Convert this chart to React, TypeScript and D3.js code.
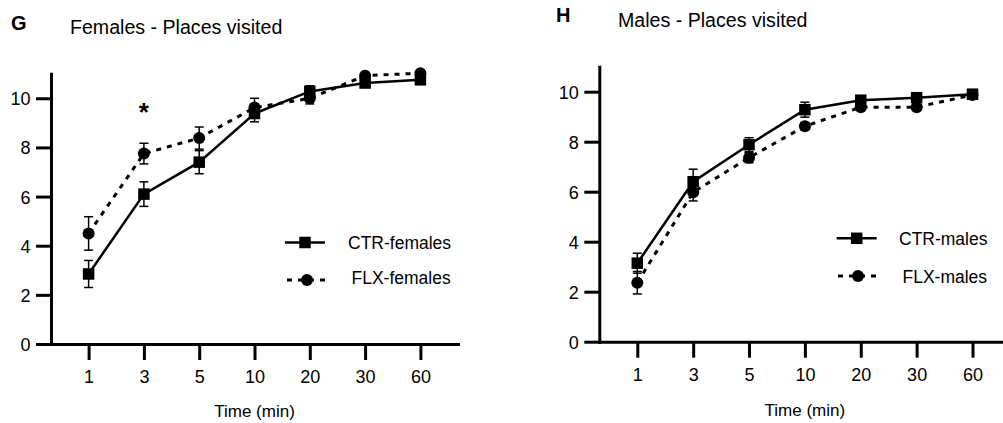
import { useEffect, useRef } from 'react';
import * as d3 from 'd3';

const times = ['1', '3', '5', '10', '20', '30', '60'];
const yTicks = [0, 2, 4, 6, 8, 10];

const ctrFemales = [2.85, 6.1, 7.4, 9.38, 10.28, 10.62, 10.75];
const ctrFemalesSem = [0.55, 0.5, 0.47, 0.34, 0.23, 0.1, 0.08];
const flxFemales = [4.5, 7.75, 8.38, 9.62, 10.0, 10.92, 11.02];
const flxFemalesSem = [0.68, 0.42, 0.45, 0.38, 0.23, 0.08, 0.06];
const sigFemales = ['', '*', '', '', '', '', ''];

const ctrMales = [3.14, 6.4, 7.88, 9.28, 9.66, 9.76, 9.9];
const ctrMalesSem = [0.4, 0.5, 0.28, 0.3, 0.12, 0.12, 0.08];
const flxMales = [2.36, 5.98, 7.36, 8.62, 9.38, 9.38, 9.87];
const flxMalesSem = [0.45, 0.35, 0.2, 0.15, 0.1, 0.1, 0.06];
const sigMales = ['', '', '', '', '', '', ''];

const FONT = '"Liberation Sans", Arial, Helvetica, sans-serif';

interface Series {
  label: string;
  values: number[];
  sem: number[];
  dashed: boolean;
  marker: 'square' | 'circle';
}

interface PanelProps {
  letter: string;
  title: string;
  letterPos: [number, number];
  titlePos: [number, number];
  xRange: [number, number];
  yRange: [number, number];
  xLabelY: number;
  series: Series[];
  sig: string[];
  legend: { lineX: [number, number]; markerX: number; textX: number; lineY: number; textY: number }[];
}

function Panel({ letter, title, letterPos, titlePos, xRange, yRange, xLabelY, series, sig, legend }: PanelProps) {
  const gRef = useRef<SVGGElement>(null);

  useEffect(() => {
    if (!gRef.current) return;
    const g = d3.select(gRef.current);
    g.selectAll('*').remove();

    const x = d3.scalePoint<string>().domain(times).range(xRange).padding(0.68);
    const y = d3.scaleLinear().domain([0, 11]).range(yRange);

    // axes
    const yAxis = g.append('g')
      .attr('transform', `translate(${xRange[0]},0)`)
      .call(d3.axisLeft(y).tickValues(yTicks).tickSize(15).tickSizeOuter(0).tickPadding(5.5));
    const xAxis = g.append('g')
      .attr('transform', `translate(0,${yRange[0]})`)
      .call(d3.axisBottom(x).tickSize(16).tickSizeOuter(0).tickPadding(10.5));

    [yAxis, xAxis].forEach(a => {
      a.select('.domain').attr('stroke', '#000').attr('stroke-width', 3).attr('stroke-linecap', 'square');
      a.selectAll('.tick line').attr('stroke', '#000').attr('stroke-width', 3);
      a.selectAll('.tick text')
        .attr('fill', '#000')
        .attr('font-size', 18)
        .attr('font-family', FONT);
    });
    yAxis.selectAll('.tick text').attr('dy', '0.36em');

    const line = d3.line<number>()
      .x((_, i) => x(times[i])!)
      .y(d => y(d));

    series.forEach(s => {
      g.append('path')
        .datum(s.values)
        .attr('d', line)
        .attr('fill', 'none')
        .attr('stroke', '#000')
        .attr('stroke-width', s.dashed ? 3 : 2.5)
        .attr('stroke-dasharray', s.dashed ? '5,6' : null);

      // error bars
      const eb = g.append('g');
      s.values.forEach((v, i) => {
        const cx = x(times[i])!;
        const top = y(v + s.sem[i]);
        const bot = y(v - s.sem[i]);
        eb.append('line').attr('x1', cx).attr('x2', cx).attr('y1', top).attr('y2', bot)
          .attr('stroke', '#000').attr('stroke-width', 1.5);
        [top, bot].forEach(yy => {
          eb.append('line').attr('x1', cx - 4.5).attr('x2', cx + 4.5).attr('y1', yy).attr('y2', yy)
            .attr('stroke', '#000').attr('stroke-width', 1.5);
        });
      });
    });

    series.forEach(s => {
      s.values.forEach((v, i) => {
        const cx = x(times[i])!;
        if (s.marker === 'square') {
          g.append('rect').attr('x', cx - 5.75).attr('y', y(v) - 5.75).attr('width', 11.5).attr('height', 11.5).attr('fill', '#000');
        } else {
          g.append('circle').attr('cx', cx).attr('cy', y(v)).attr('r', 6).attr('fill', '#000');
        }
      });
    });

    // significance
    sig.forEach((t, i) => {
      if (!t) return;
      const topVal = d3.max(series, s => s.values[i] + s.sem[i]) ?? 0;
      g.append('text')
        .attr('x', x(times[i])!)
        .attr('y', y(topVal) - 22)
        .attr('text-anchor', 'middle')
        .attr('font-size', 26)
        .attr('font-weight', 'bold')
        .attr('font-family', FONT)
        .text(t);
    });

    // legend
    series.forEach((s, i) => {
      const L = legend[i];
      g.append('line')
        .attr('x1', L.lineX[0]).attr('x2', L.lineX[1])
        .attr('y1', L.lineY).attr('y2', L.lineY)
        .attr('stroke', '#000')
        .attr('stroke-width', s.dashed ? 3 : 2.5)
        .attr('stroke-dasharray', s.dashed ? '5,6' : null);
      if (s.marker === 'square') {
        g.append('rect').attr('x', L.markerX - 5.75).attr('y', L.lineY - 5.75).attr('width', 11.5).attr('height', 11.5).attr('fill', '#000');
      } else {
        g.append('circle').attr('cx', L.markerX).attr('cy', L.lineY).attr('r', 6).attr('fill', '#000');
      }
      g.append('text')
        .attr('x', L.textX).attr('y', L.textY)
        .attr('font-size', 17.5)
        .attr('font-family', FONT)
        .text(s.label);
    });

    g.append('text')
      .attr('x', (xRange[0] + xRange[1]) / 2)
      .attr('y', xLabelY)
      .attr('text-anchor', 'middle')
      .attr('font-size', 17)
      .attr('font-family', FONT)
      .text('Time (min)');

    g.append('text')
      .attr('x', letterPos[0]).attr('y', letterPos[1])
      .attr('font-size', 20)
      .attr('font-weight', 'bold')
      .attr('font-family', FONT)
      .text(letter);

    g.append('text')
      .attr('x', titlePos[0]).attr('y', titlePos[1])
      .attr('font-size', 19.6)
      .attr('font-family', FONT)
      .text(title);
  }, []);

  return <g ref={gRef} />;
}

export default function App() {
  return (
    <svg
      width={1003}
      height={423}
      style={{ position: 'fixed', left: 0, top: 0, background: '#fff', display: 'block' }}
    >
      <rect width={1003} height={423} fill="#fff" />
      <Panel
        letter="G"
        title="Females - Places visited"
        letterPos={[11, 30]}
        titlePos={[70, 34]}
        xRange={[51, 458]}
        yRange={[344, 73.7]}
        xLabelY={417}
        series={[
          { label: 'CTR-females', values: ctrFemales, sem: ctrFemalesSem, dashed: false, marker: 'square' },
          { label: 'FLX-females', values: flxFemales, sem: flxFemalesSem, dashed: true, marker: 'circle' },
        ]}
        sig={sigFemales}
        legend={[
          { lineX: [285, 325], markerX: 305, textX: 348, lineY: 242.5, textY: 248.5 },
          { lineX: [287, 328], markerX: 307, textX: 351.5, lineY: 280, textY: 284 },
        ]}
      />
      <Panel
        letter="H"
        title="Males - Places visited"
        letterPos={[556, 22]}
        titlePos={[618, 27]}
        xRange={[599.3, 1010.5]}
        yRange={[341.7, 66.7]}
        xLabelY={415.5}
        series={[
          { label: 'CTR-males', values: ctrMales, sem: ctrMalesSem, dashed: false, marker: 'square' },
          { label: 'FLX-males', values: flxMales, sem: flxMalesSem, dashed: true, marker: 'circle' },
        ]}
        sig={sigMales}
        legend={[
          { lineX: [836.7, 876.7], markerX: 856.7, textX: 899, lineY: 238.3, textY: 245 },
          { lineX: [838, 879], markerX: 858, textX: 902.5, lineY: 276, textY: 282.7 },
        ]}
      />
    </svg>
  );
}
